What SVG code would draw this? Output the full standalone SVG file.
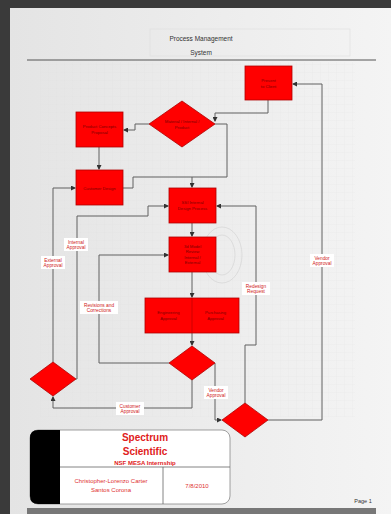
<svg xmlns="http://www.w3.org/2000/svg" width="391" height="514" viewBox="0 0 391 514">
<defs>
<marker id="ah" markerWidth="5" markerHeight="5" refX="4" refY="2.5" orient="auto" markerUnits="userSpaceOnUse">
<path d="M0,0 L5,2.5 L0,5 Z" fill="#333"/>
</marker>
<pattern id="grid" width="8" height="8" patternUnits="userSpaceOnUse">
<path d="M8,0 L0,0 0,8" fill="none" stroke="#dcdcdc" stroke-width="0.5"/>
</pattern>
<linearGradient id="page" x1="0" y1="0" x2="1" y2="0">
<stop offset="0" stop-color="#e4e4e4"/>
<stop offset="1" stop-color="#f4f4f4"/>
</linearGradient>
</defs>
<style>
.box{fill:#ff0000;stroke:#b00000;stroke-width:0.8}
.t{font-family:"Liberation Sans",Arial,sans-serif;font-size:4.2px;fill:#7a0000;text-anchor:middle}
.c{fill:none;stroke:#606060;stroke-width:1}
.lbl{font-family:"Liberation Sans",Arial,sans-serif;font-size:4.8px;fill:#d02020;text-anchor:middle}
.lbg{fill:#ffffff}
.title{font-family:"Liberation Sans",Arial,sans-serif;font-size:6.5px;fill:#333;text-anchor:middle}
</style>
<rect width="391" height="514" fill="#3a3a3a"/>
<rect x="10" y="8" width="381" height="506" fill="url(#page)"/>
<rect x="40" y="62" width="315" height="355" fill="url(#grid)" opacity="0.5"/>
<g id="bgcircles" fill="none" stroke="#d0d0d0" stroke-width="0.6">
<ellipse cx="222" cy="255" rx="20" ry="28"/>
<ellipse cx="222" cy="255" rx="13" ry="20"/>
</g>
<rect x="150" y="29" width="200" height="27" fill="none" stroke="#dddddd" stroke-width="0.6"/>
<text class="title" x="201" y="40.5">Process Management</text>
<text class="title" x="201" y="54.5">System</text>
<line x1="27" y1="60" x2="376" y2="60" stroke="#555" stroke-width="1"/>
<rect x="27" y="508" width="349" height="6" fill="#777"/>

<g id="connectors">
<polyline class="c" points="268,100 268,113 215,113 215,121" marker-end="url(#ah)"/>
<polyline class="c" points="215,124 227,124 227,177 192,177"/>
<polyline class="c" points="123,188 133,188 133,177 192,177 192,187" marker-end="url(#ah)"/>
<polyline class="c" points="149,124 135,124 135,130 124,130" marker-end="url(#ah)"/>
<polyline class="c" points="99,147 99,169" marker-end="url(#ah)"/>
<polyline class="c" points="268,420 322,420 322,84 293,84" marker-end="url(#ah)"/>
<polyline class="c" points="245,403 245,345 256,345 256,206 217,206" marker-end="url(#ah)"/>
<polyline class="c" points="215,363 215,420 221,420" marker-end="url(#ah)"/>
<polyline class="c" points="192,380 192,408 53,408 53,397" marker-end="url(#ah)"/>
<polyline class="c" points="169,363 99,363 99,255 168,255" marker-end="url(#ah)"/>
<polyline class="c" points="53,362 53,188 75,188" marker-end="url(#ah)"/>
<polyline class="c" points="76,379 77,379 77,216 148,216 148,206 168,206" marker-end="url(#ah)"/>
<polyline class="c" points="192,223 192,236" marker-end="url(#ah)"/>
<polyline class="c" points="192,272 192,297" marker-end="url(#ah)"/>
<polyline class="c" points="192,333 192,345" marker-end="url(#ah)"/>
</g>

<g id="labels">
<rect class="lbg" x="310" y="254" width="24" height="13"/>
<text class="lbl" x="322" y="259.5">Vendor</text><text class="lbl" x="322" y="265">Approval</text>
<rect class="lbg" x="242" y="282" width="28" height="13"/>
<text class="lbl" x="256" y="287.5">Redesign</text><text class="lbl" x="256" y="293">Request</text>
<rect class="lbg" x="204" y="386" width="24" height="13"/>
<text class="lbl" x="216" y="391.5">Vendor</text><text class="lbl" x="216" y="397">Approval</text>
<rect class="lbg" x="116" y="402" width="28" height="13"/>
<text class="lbl" x="130" y="407.5">Customer</text><text class="lbl" x="130" y="413">Approval</text>
<rect class="lbg" x="80" y="301" width="38" height="13"/>
<text class="lbl" x="99" y="306.5">Revisions and</text><text class="lbl" x="99" y="312">Corrections</text>
<rect class="lbg" x="41" y="256" width="24" height="13"/>
<text class="lbl" x="53" y="261.5">External</text><text class="lbl" x="53" y="267">Approval</text>
<rect class="lbg" x="64" y="238" width="24" height="13"/>
<text class="lbl" x="76" y="243.5">Internal</text><text class="lbl" x="76" y="249">Approval</text>
</g>

<g id="present">
<rect class="box" x="245" y="66" width="47" height="34"/>
<text class="t" x="268.5" y="82">Present</text><text class="t" x="268.5" y="87.5">to Client</text>
</g>
<g id="decision1">
<polygon class="box" points="182,101 215,124 182,147 149,124"/>
<text class="t" x="182" y="123">Material / Internal /</text><text class="t" x="182" y="128.5">Product</text>
</g>
<g id="concepts">
<rect class="box" x="76" y="112" width="47" height="35"/>
<text class="t" x="99.5" y="128">Product Concepts</text><text class="t" x="99.5" y="133.5">Proposal</text>
</g>
<g id="customer">
<rect class="box" x="76" y="170" width="47" height="35"/>
<text class="t" x="99.5" y="189.5">Customer Design</text>
</g>
<g id="ssi">
<rect class="box" x="169" y="188" width="47" height="35"/>
<text class="t" x="192.5" y="204">SSI Internal</text><text class="t" x="192.5" y="209.5">Design Process</text>
</g>
<g id="model">
<rect class="box" x="169" y="237" width="47" height="35"/>
<text class="t" x="192.5" y="247.5">3d Model</text><text class="t" x="192.5" y="253">Review</text><text class="t" x="192.5" y="258.5">Internal /</text><text class="t" x="192.5" y="264">External</text>
</g>
<g id="approvals">
<rect class="box" x="145" y="298" width="94" height="35"/>
<line x1="192" y1="298" x2="192" y2="333" stroke="#b00000" stroke-width="0.6"/>
<text class="t" x="168.5" y="314">Engineering</text><text class="t" x="168.5" y="319.5">Approval</text>
<text class="t" x="215.5" y="314">Purchasing</text><text class="t" x="215.5" y="319.5">Approval</text>
</g>
<g id="decision2">
<polygon class="box" points="192,346 215,363 192,380 169,363"/>
</g>
<g id="decision3">
<polygon class="box" points="53,362 76,379 53,396 30,379"/>
</g>
<g id="decision4">
<polygon class="box" points="245,403 268,420 245,437 222,420"/>
</g>

<g id="titleblock">
<rect x="30" y="430" width="200" height="74" rx="8" fill="#ffffff" stroke="#888" stroke-width="0.8"/>
<path d="M38,430 L60,430 L60,504 L38,504 Q30,504 30,496 L30,438 Q30,430 38,430 Z" fill="#000"/>
<line x1="60" y1="467" x2="230" y2="467" stroke="#666" stroke-width="0.8"/>
<line x1="163" y1="467" x2="163" y2="504" stroke="#666" stroke-width="0.8"/>
<text x="145" y="441" font-family="Liberation Sans,Arial,sans-serif" font-size="10" font-weight="bold" fill="#e02020" text-anchor="middle">Spectrum</text>
<text x="145" y="455" font-family="Liberation Sans,Arial,sans-serif" font-size="10" font-weight="bold" fill="#e02020" text-anchor="middle">Scientific</text>
<text x="145" y="465" font-family="Liberation Sans,Arial,sans-serif" font-size="6" font-weight="bold" fill="#e02020" text-anchor="middle">NSF MESA Internship</text>
<text x="111" y="483" font-family="Liberation Sans,Arial,sans-serif" font-size="6" fill="#e03030" text-anchor="middle">Christopher-Lorenzo Carter</text>
<text x="111" y="492" font-family="Liberation Sans,Arial,sans-serif" font-size="6" fill="#e03030" text-anchor="middle">Santos Corona</text>
<text x="197" y="488" font-family="Liberation Sans,Arial,sans-serif" font-size="6" fill="#e03030" text-anchor="middle">7/8/2010</text>
</g>
<text x="363" y="503" font-family="Liberation Sans,Arial,sans-serif" font-size="5.5" fill="#333" text-anchor="middle">Page 1</text>
</svg>
